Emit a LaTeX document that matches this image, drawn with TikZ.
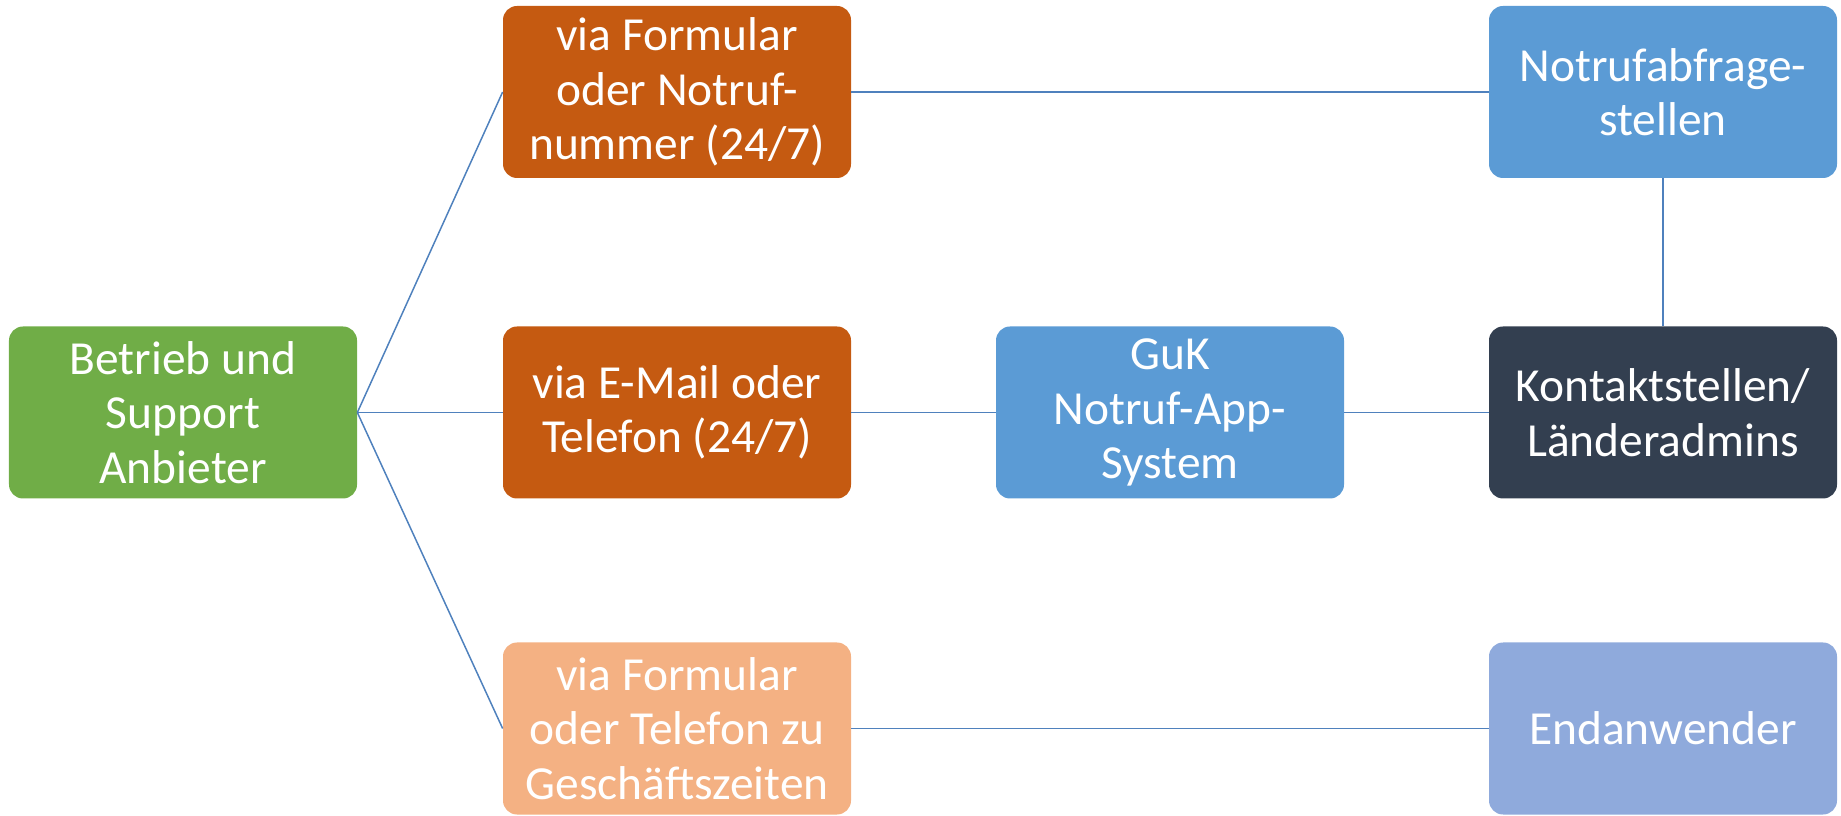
\documentclass[tikz,border=0pt]{standalone}
\usepackage{fontspec}
\setmainfont{Carlito}
\definecolor{lgreen}{RGB}{112,173,71}
\definecolor{dorange}{RGB}{197,90,17}
\definecolor{lorange}{RGB}{244,177,131}
\definecolor{mblue}{RGB}{91,155,213}
\definecolor{lblue}{RGB}{143,170,220}
\definecolor{navy}{RGB}{51,63,80}
\definecolor{linkblue}{RGB}{79,129,189}
\tikzset{
  card/.style={rounded corners=0.28cm, minimum width=6.96cm, minimum height=3.44cm,
    text=white, align=center, inner sep=2pt,
    font=\fontsize{27}{31}\selectfont},
  link/.style={draw=linkblue, line width=0.85pt}
}
\begin{document}
\begin{tikzpicture}
  \useasboundingbox (0,0) rectangle (36.82,-16.32);

  % left column
  \node[card, fill=lgreen] (anbieter) at (3.66,-8.25) {Betrieb und\\Support\\Anbieter};

  % contact channels
  \node[card, fill=dorange] (formular) at (13.54,-1.84) {via Formular\\oder Notruf-\\nummer (24/7)};
  \node[card, fill=dorange] (email) at (13.54,-8.25) {via E-Mail oder\\Telefon (24/7)};
  \node[card, fill=lorange] (zeiten) at (13.54,-14.57) {via Formular\\oder Telefon zu\\Geschäftszeiten};

  % system
  \node[card, fill=mblue] (system) at (23.40,-8.25) {GuK\\Notruf-App-\\System};

  % right column
  \node[card, fill=mblue] (abfrage) at (33.26,-1.84) {Notrufabfrage-\\stellen};
  \node[card, fill=navy] (kontakt) at (33.26,-8.25) {Kontaktstellen/\\Länderadmins};
  \node[card, fill=lblue] (nutzer) at (33.26,-14.57) {Endanwender};

  % connectors
  \draw[link] (anbieter.east) -- (formular.west);
  \draw[link] (anbieter.east) -- (email.west);
  \draw[link] (anbieter.east) -- (zeiten.west);
  \draw[link] (formular) -- (abfrage);
  \draw[link] (email) -- (system);
  \draw[link] (system) -- (kontakt);
  \draw[link] (abfrage) -- (kontakt);
  \draw[link] (zeiten) -- (nutzer);
\end{tikzpicture}
\end{document}
